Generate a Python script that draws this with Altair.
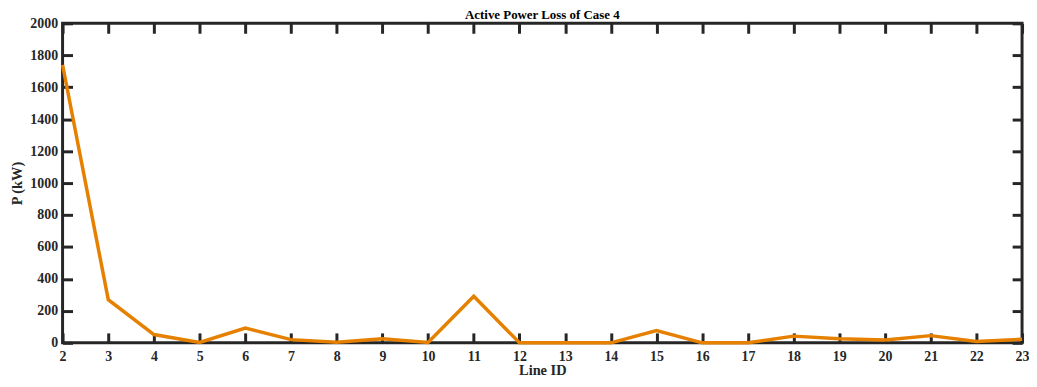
import altair as alt
import pandas as pd

line_id = list(range(2, 24))
p_kw = [1740, 270, 52, 3, 93, 20, 3, 25, 2, 292, 0, 0, 0, 77, 0, 0, 42, 25, 18, 45, 8, 22]
x_ticks = list(range(2, 24))
y_ticks = list(range(0, 2001, 200))

df = pd.DataFrame({"line": line_id, "p": p_kw})

FONT = "Liberation Serif"
DARK = "#262626"

xscale = alt.Scale(domain=[2, 23], nice=False, zero=False)
yscale = alt.Scale(domain=[0, 2000], nice=False)

common = dict(grid=False, domain=False, tickColor=DARK, tickWidth=3, tickSize=10,
              offset=-10, labelFont=FONT, labelFontWeight="bold", labelFontSize=14,
              labelColor=DARK, titleFont=FONT, titleFontWeight="bold", titleFontSize=14.5,
              titleColor=DARK, format="d")

main = alt.Chart(df).mark_line(color="#E68000", strokeWidth=3.5).encode(
    x=alt.X("line:Q", scale=xscale,
            axis=alt.Axis(values=x_ticks, title="Line ID", labelPadding=7, titlePadding=0,
                          labelFlush=False, **common)),
    y=alt.Y("p:Q", scale=yscale,
            axis=alt.Axis(values=y_ticks, title="P (kW)", labelPadding=5, titlePadding=5,
                          **common)),
)

mirror = alt.Chart(df).mark_line(opacity=0).encode(
    x=alt.X("line:Q", scale=xscale,
            axis=alt.Axis(values=x_ticks, orient="top", labels=False, title=None, **common)),
    y=alt.Y("p:Q", scale=yscale,
            axis=alt.Axis(values=y_ticks, orient="right", labels=False, title=None, **common)),
)

chart = alt.layer(mirror, main).resolve_axis(x="independent", y="independent").properties(
    width=967, height=322, background="white",
    autosize=alt.AutoSizeParams(type="none"),
    padding={"left": 55, "top": 14, "right": 7, "bottom": 35},
    title=alt.TitleParams("Active Power Loss of Case 4", font=FONT, fontWeight="bold",
                          fontSize=13, color="#000000", offset=-6, anchor="middle"),
).configure_view(stroke=DARK, strokeWidth=3)

chart.save("out.html", embed_options={"renderer": "svg", "actions": False})
